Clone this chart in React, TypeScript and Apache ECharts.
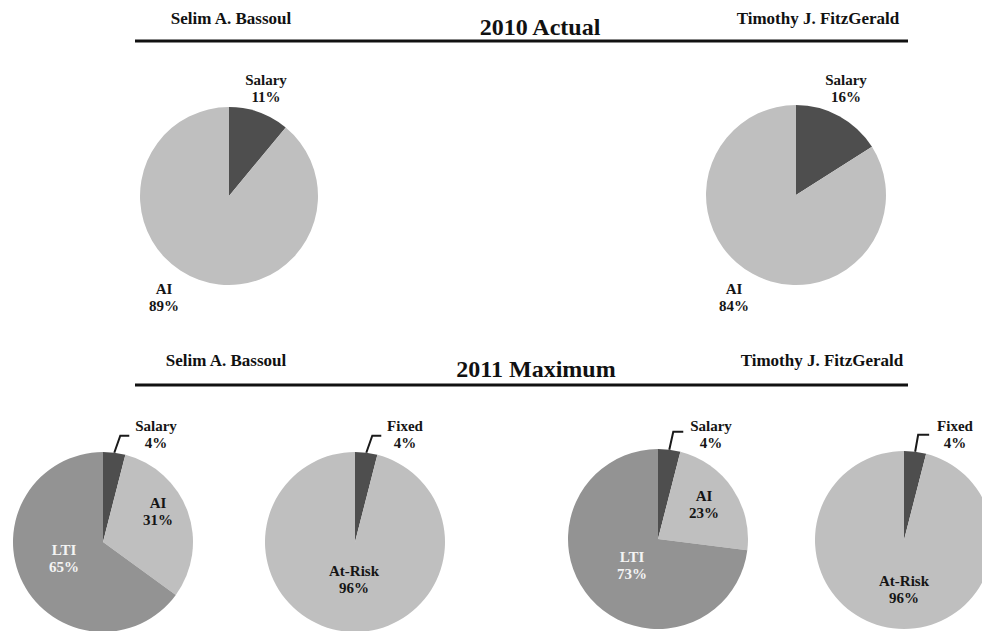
import React, { useEffect, useRef } from "react";
import * as echarts from "echarts";

// ---- Data ----
const executives = ["Selim A. Bassoul", "Timothy J. FitzGerald"];
const sectionTitles = ["2010 Actual", "2011 Maximum"];

const actualCategories = ["Salary", "AI"];
const bassoulActual = [11, 89];
const fitzgeraldActual = [16, 84];

const maxCategories = ["Salary", "AI", "LTI"];
const bassoulMax = [4, 31, 65];
const fitzgeraldMax = [4, 23, 73];

const riskCategories = ["Fixed", "At-Risk"];
const bassoulRisk = [4, 96];
const fitzgeraldRisk = [4, 96];

// ---- Styles ----
const FONT = "'Liberation Serif', 'Times New Roman', serif";
const COLORS: Record<string, string> = {
  Salary: "#4e4e4e",
  Fixed: "#4e4e4e",
  AI: "#bfbfbf",
  "At-Risk": "#bfbfbf",
  LTI: "#939393",
};

type Pt = [number, number];

function pieSeries(
  names: string[],
  values: number[],
  center: Pt,
  radius: number,
  labelPos: Pt[],
  leader?: [number, number, number]
) {
  const total = values.reduce((a, b) => a + b, 0);
  let cum = 0;
  const mids = values.map((v) => {
    const m = cum + v / 2;
    cum += v;
    return m;
  });
  return {
    type: "pie",
    center,
    radius,
    startAngle: 90,
    clockwise: true,
    silent: true,
    avoidLabelOverlap: false,
    emphasis: { disabled: true },
    data: names.map((n, i) => ({
      name: n,
      value: values[i],
      itemStyle: { color: COLORS[n] },
      label: { color: n === "LTI" ? "#f4f4f4" : "#151515" },
      labelLine: { show: !!leader && i === 0 },
    })),
    label: {
      show: true,
      position: "outside",
      formatter: "{b}\n{c}%",
      fontFamily: FONT,
      fontWeight: "bold",
      fontSize: 15,
      lineHeight: 17,
      width: 90,
      overflow: "none",
      align: "center",
    },
    labelLine: { show: false, lineStyle: { color: "#1a1a1a", width: 2 } },
    labelLayout: (p: any) => {
      const i = p.dataIndex;
      const pos = labelPos[i];
      const out: any = { x: pos[0], y: pos[1], align: "center", verticalAlign: "middle" };
      if (leader && i === 0) {
        const ang = ((90 - (mids[i] / total) * 360) * Math.PI) / 180;
        const s: Pt = [center[0] + radius * Math.cos(ang), center[1] - radius * Math.sin(ang)];
        const m: Pt = [s[0] + leader[0], s[1] + leader[1]];
        out.labelLinePoints = [s, m, [m[0] + leader[2], m[1]]];
      }
      return out;
    },
  };
}

function textEl(text: string, x: number, y: number, size: number) {
  return {
    type: "text",
    x,
    y,
    silent: true,
    style: {
      text,
      fontFamily: FONT,
      fontWeight: "bold",
      fontSize: size,
      fill: "#111",
      align: "center",
      verticalAlign: "middle",
    },
  };
}

function ruleEl(y: number) {
  return {
    type: "line",
    silent: true,
    shape: { x1: 135, y1: y, x2: 908, y2: y },
    style: { stroke: "#111", lineWidth: 3 },
  };
}

export default function App() {
  const ref = useRef<HTMLDivElement>(null);

  useEffect(() => {
    if (!ref.current) return;
    const chart = echarts.init(ref.current, undefined, { renderer: "svg" });
    chart.setOption({
      animation: false,
      backgroundColor: "#ffffff",
      graphic: [
        textEl(executives[0], 231, 18, 17),
        textEl(sectionTitles[0], 540, 27, 24),
        textEl(executives[1], 818, 18, 17),
        ruleEl(41),
        textEl(executives[0], 226, 360, 17),
        textEl(sectionTitles[1], 536, 369, 24),
        textEl(executives[1], 822, 360, 17),
        ruleEl(385),
      ],
      series: [
        pieSeries(actualCategories, bassoulActual, [229, 196], 89, [
          [266, 88],
          [164, 297],
        ]),
        pieSeries(actualCategories, fitzgeraldActual, [796, 195], 90, [
          [846, 88],
          [734, 297],
        ]),
        pieSeries(
          maxCategories,
          bassoulMax,
          [103, 542],
          90,
          [
            [156, 434],
            [158, 511],
            [64, 558],
          ],
          [6, -17, 9]
        ),
        pieSeries(
          riskCategories,
          bassoulRisk,
          [355, 542],
          90,
          [
            [405, 434],
            [354, 579],
          ],
          [6, -17, 9]
        ),
        pieSeries(
          maxCategories,
          fitzgeraldMax,
          [658, 539],
          90,
          [
            [711, 434],
            [704, 504],
            [632, 565],
          ],
          [4, -18, 10]
        ),
        pieSeries(
          riskCategories,
          fitzgeraldRisk,
          [904, 540],
          89,
          [
            [955, 434],
            [904, 589],
          ],
          [3, -17, 11]
        ),
      ],
    });
    return () => chart.dispose();
  }, []);

  return (
    <div
      ref={ref}
      style={{ position: "absolute", left: 0, top: 0, width: 982, height: 631, background: "#fff" }}
    />
  );
}
